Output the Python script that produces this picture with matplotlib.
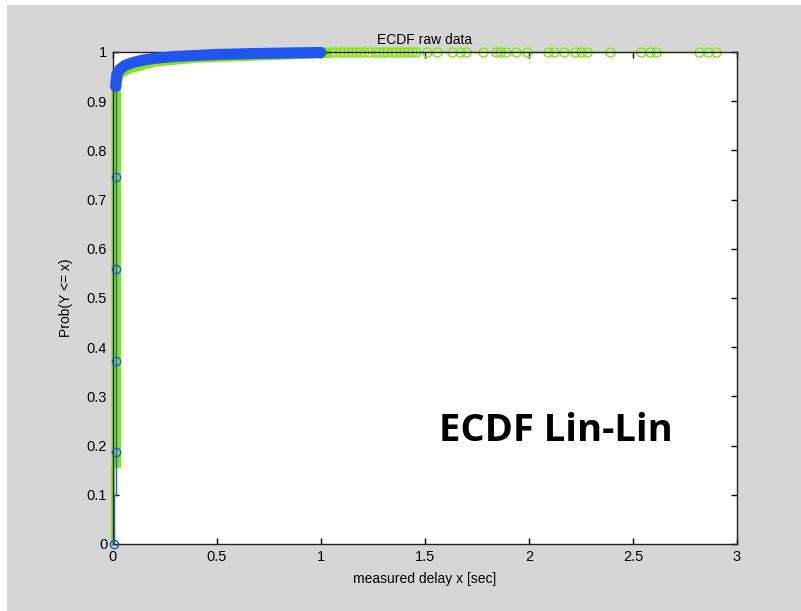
#ECDF of measured delays, linear x and y axes
#two runs: blue series and green series
import numpy as np
import matplotlib.pyplot as plt
from matplotlib.patches import Rectangle

#blue series: the few points on the vertical rise, then the dense upper curve
blue_rise_x = [0.006, 0.006, 0.014, 0.014]
blue_rise_y = [0.0, 0.10, 0.10, 0.93]
blue_mark_x = [0.006, 0.014, 0.014, 0.014, 0.014, 0.014]
blue_mark_y = [0.0, 0.186, 0.372, 0.558, 0.745, 0.93]
blue_curve_x = [0.014, 0.02, 0.035, 0.06, 0.10, 0.15, 0.20, 0.30, 0.40, 0.50, 0.70, 0.85, 1.00]
blue_curve_y = [0.93, 0.955, 0.965, 0.973, 0.979, 0.984, 0.987, 0.991, 0.993, 0.995, 0.997, 0.998, 0.999]

#green series: thin first step, dense band, then the sparse tail at y=1
green_low_x = [0.002, 0.002]
green_low_y = [0.0, 0.155]
green_band_x = [0.017, 0.017, 0.03, 0.08, 0.20, 0.40, 0.60, 0.80, 1.00, 1.05]
green_band_y = [0.155, 0.93, 0.955, 0.966, 0.980, 0.988, 0.991, 0.994, 0.997, 0.998]
green_tail_x = [1.02, 1.05, 1.07, 1.09, 1.11, 1.13, 1.15, 1.17, 1.19, 1.21, 1.23,
                1.26, 1.28, 1.30, 1.32, 1.34, 1.36, 1.38, 1.40, 1.42, 1.44, 1.46,
                1.51, 1.56, 1.63, 1.67, 1.70, 1.78, 1.84, 1.86, 1.89, 1.94, 1.99,
                2.09, 2.12, 2.17, 2.22, 2.25, 2.28, 2.39, 2.54, 2.58, 2.61,
                2.82, 2.86, 2.90]
green_tail_y = [1.0] * len(green_tail_x)

x_ticks = [0, 0.5, 1, 1.5, 2, 2.5, 3]
x_ticklabels = ['0', '0.5', '1', '1.5', '2', '2.5', '3']
y_ticks = [0, 0.1, 0.2, 0.3, 0.4, 0.5, 0.6, 0.7, 0.8, 0.9, 1]
y_ticklabels = ['0', '0.1', '0.2', '0.3', '0.4', '0.5', '0.6', '0.7', '0.8', '0.9', '1']

blue = '#2255f0'
green = '#84e60f'

plt.rcParams['font.family'] = ['Liberation Sans', 'DejaVu Sans']

fig = plt.figure(figsize=(8.01, 6.11), dpi=100, facecolor='white')
#grey window behind the axes
fig.patches.append(Rectangle((7 / 801, 0), 1, 1 - 5 / 611, transform=fig.transFigure,
                             facecolor='#d6d6d6', edgecolor='none', zorder=-10))

ax = fig.add_axes([0.1407, 0.1097, 0.9200 - 0.1407, 0.9149 - 0.1097])
ax.set_facecolor('white')

#green first so the blue band sits on top
ax.plot(green_low_x, green_low_y, color=green, lw=3, clip_on=False, zorder=2)
ax.plot(green_band_x, green_band_y, color=green, lw=7, solid_capstyle='butt',
        solid_joinstyle='round', clip_on=False, zorder=2)
ax.plot(green_tail_x, green_tail_y, 'o-', color=green, lw=1, ms=6.5, mfc='none',
        mec=green, mew=1, clip_on=False, zorder=2)

ax.plot(blue_rise_x, blue_rise_y, color=blue, lw=1, clip_on=False, zorder=3)
ax.plot(blue_mark_x, blue_mark_y, 'o', ms=6, mfc='none', mec=blue, mew=1,
        clip_on=False, zorder=3)
ax.plot(blue_curve_x, blue_curve_y, color=blue, lw=8, solid_capstyle='round',
        solid_joinstyle='round', clip_on=False, zorder=3)

ax.set_xlim(0, 3)
ax.set_ylim(0, 1)
ax.set_xticks(x_ticks)
ax.set_xticklabels(x_ticklabels)
ax.set_yticks(y_ticks)
ax.set_yticklabels(y_ticklabels)
ax.tick_params(direction='in', length=4, width=1, labelsize=10.5, top=True, right=True)
ax.tick_params(axis='x', pad=4)
ax.tick_params(axis='y', pad=4)
for s in ax.spines.values():
    s.set_linewidth(1)
    s.set_color('#222222')

ax.set_title('ECDF raw data', fontsize=10, pad=6)
ax.set_xlabel('measured delay x [sec]', fontsize=10, labelpad=6)
ax.set_ylabel('Prob(Y <= x)', fontsize=10, labelpad=10)

fig.text(556 / 801, 1 - 431 / 611, 'ECDF Lin-Lin', fontsize=27.5, fontweight='bold',
         family='Open Sans', ha='center', va='center')

fig.savefig('out.png', dpi=100, facecolor=fig.get_facecolor())
